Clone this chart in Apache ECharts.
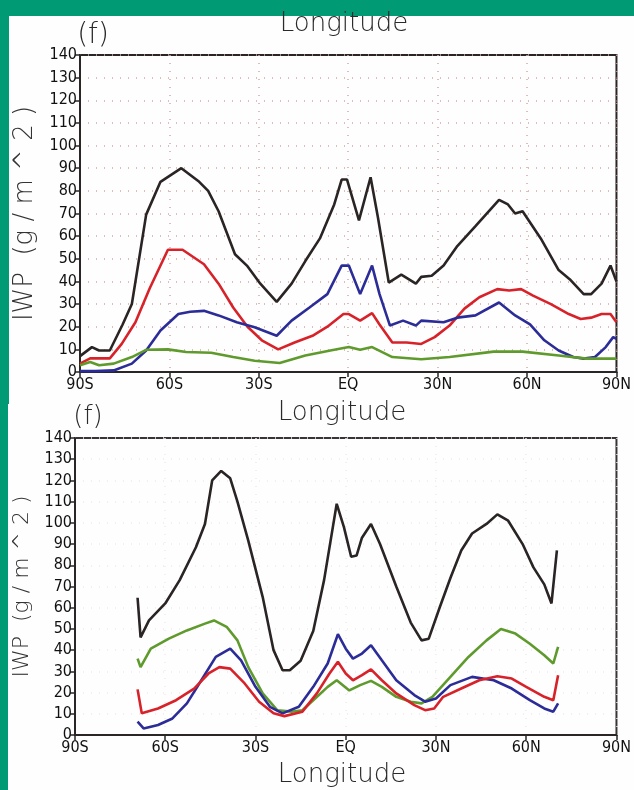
<!DOCTYPE html>
<html>
<head>
<meta charset="utf-8">
<script src="https://cdn.jsdelivr.net/npm/echarts@6/dist/echarts.min.js"></script>
<style>
	html, body { margin: 0; padding: 0; background: #009a74; }
	#chart { width: 634px; height: 790px; }
</style>
</head>
<body>
<div id="chart"></div>
<script>
	// tick labels
	var lonTicks = [-90, -60, -30, 0, 30, 60, 90];
	var lonNames = ['90S', '60S', '30S', 'EQ', '30N', '60N', '90N'];
	var iwpTicks = [0, 10, 20, 30, 40, 50, 60, 70, 80, 90, 100, 110, 120, 130, 140];

	// upper panel (f) : [lon, IWP]
	var topBlack = [[-90, 7], [-86, 11], [-83.6, 9.5], [-80, 9.5], [-75.7, 21], [-72.6, 30], [-67.8, 69.5], [-63, 84], [-56, 90], [-50, 84], [-47, 80], [-43.5, 71], [-38, 52], [-34, 47], [-29.5, 39], [-24, 31], [-19, 39], [-14.4, 49], [-9.5, 59], [-4.7, 74], [-2.2, 85], [-0.4, 85], [3.6, 67], [7.5, 86], [10, 68], [13.6, 39.5], [17.8, 43], [22.7, 39], [24.5, 42], [28, 42.5], [32, 47], [36.6, 55.6], [42.7, 64.4], [50.6, 76], [53.6, 74], [56, 70], [58.5, 71], [64.6, 59], [70.6, 45], [74.3, 41], [79, 34.4], [81.5, 34.4], [85, 39], [88, 47], [90, 40]];
	var topRed = [[-90, 3.7], [-86.6, 6], [-80, 6], [-76, 12.4], [-71.4, 22], [-66.6, 37], [-60.5, 54], [-55.6, 54], [-48.4, 47.6], [-43.5, 39], [-38.6, 28.5], [-33.8, 20], [-29, 14], [-23.5, 10], [-18, 13], [-12, 16], [-7, 20], [-1.6, 25.6], [0.2, 25.6], [4, 22.7], [8, 26], [10.5, 21], [14.8, 13], [19.6, 13], [24.5, 12.4], [29, 15.4], [34, 20.5], [39, 28], [44, 33], [50, 36.6], [54, 36], [58, 36.6], [62, 33.7], [68, 30], [74, 25.6], [78, 23.4], [81.5, 24], [85, 25.6], [88, 25.6], [90, 22]];
	var topBlue = [[-90, 0.4], [-84.8, 0.4], [-78.7, 0.7], [-72.6, 3.7], [-67.8, 9.5], [-63, 18.3], [-57, 25.6], [-53, 26.6], [-48.4, 27], [-43.5, 25], [-37.4, 22], [-31.4, 19.8], [-24, 16], [-19, 22.7], [-13, 28.5], [-7, 34.4], [-2.2, 47], [0.2, 47], [4, 34.4], [8, 47], [10.5, 34.4], [14, 20.5], [18.4, 22.7], [22.7, 20.5], [24.5, 22.7], [32, 22], [36.6, 24], [42.7, 25], [50.6, 30.7], [56, 25], [61, 21], [65.8, 14], [70.6, 9.5], [75.5, 6.6], [79, 5.9], [82.8, 6.6], [86.4, 11], [88.9, 15.4], [90, 14.6]];
	var topGreen = [[-90, 3], [-86.6, 4.4], [-83.6, 3], [-78.7, 3.7], [-72.6, 6.6], [-67.8, 9.8], [-60.5, 10], [-54.4, 8.8], [-46, 8.5], [-38.6, 6.6], [-31.4, 5], [-23, 4], [-14.4, 7.3], [-6, 9.5], [0.2, 11], [4, 9.8], [8, 11], [14.8, 6.6], [24.5, 5.6], [34, 6.6], [48.8, 9], [58.5, 9], [70.6, 7.3], [80, 5.9], [90, 5.9]];

	// lower panel (f) : [lon, IWP]
	var botBlack = [[-69.2, 64.7], [-68.2, 46], [-65.4, 54], [-60, 62], [-55.2, 73], [-49.8, 88.5], [-46.8, 99.5], [-44.4, 120], [-41.4, 124.5], [-38.4, 121], [-36, 110], [-32.4, 91.6], [-27.6, 65], [-24, 40], [-21, 30.5], [-18.6, 30.5], [-15, 35], [-10.8, 49], [-7.2, 73], [-3, 109], [-0.6, 98], [1.8, 84], [3.6, 84.6], [5.4, 93], [8.4, 99.5], [11.4, 90], [16.8, 70], [21.6, 53], [25.2, 44.6], [27.6, 45.4], [31.2, 60], [34.8, 74], [38.4, 87], [42, 95], [46.8, 99.5], [50.4, 104], [54, 101], [58.8, 90], [62.4, 79], [66, 71], [68.4, 62], [70.2, 87]];
	var botGreen = [[-69.2, 36], [-68.2, 32], [-64.8, 40.7], [-58.8, 45.4], [-52.8, 49.3], [-46.8, 52.5], [-43.8, 54], [-39.6, 51], [-36, 44.6], [-32.4, 32], [-27.6, 19.6], [-22.8, 11.7], [-18, 11], [-14.4, 11.7], [-10.8, 16.4], [-6, 22.7], [-3, 25.8], [1.2, 21], [4.8, 23.5], [8.4, 25.5], [12, 22.7], [16.8, 18], [21.6, 15.7], [25.2, 14.9], [28.8, 18], [34.8, 27.4], [40.8, 36.8], [46.8, 44.6], [51.6, 50], [56.4, 47.8], [61.2, 43], [66, 37.6], [69, 33.7], [70.6, 41.5]];
	var botBlue = [[-69.2, 6.3], [-67.2, 3.1], [-62.4, 4.7], [-57.6, 7.8], [-52.8, 14.9], [-48, 25.8], [-43.2, 36.8], [-38.4, 40.7], [-34.8, 35.2], [-30, 22.7], [-25.2, 13.3], [-21, 10.2], [-15.6, 13.3], [-10.8, 22.7], [-6, 33.7], [-2.6, 47.5], [0, 40.7], [2.4, 36], [5.4, 38.4], [8.4, 42.3], [12, 35.2], [16.8, 25.8], [22.8, 18.8], [26.4, 15.7], [30, 17.2], [34.8, 23.5], [42, 27.4], [49.2, 25.8], [55.2, 21.9], [61.2, 16.4], [66, 12.5], [69, 11], [70.6, 14.9]];
	var botRed = [[-69.2, 21.5], [-67.8, 10.2], [-62.4, 12.5], [-56.4, 16.4], [-50.4, 21.9], [-45.6, 29], [-42, 32], [-38.4, 31.3], [-33.6, 24.3], [-28.8, 15.7], [-24, 10.2], [-20.4, 8.9], [-14.4, 11], [-9.6, 19.6], [-5.4, 29], [-2.6, 34.5], [0, 29], [2.4, 25.8], [5.4, 28.2], [8.4, 30.9], [12, 25.8], [16.8, 19.6], [22.8, 14.1], [26.4, 11.7], [29.4, 12.5], [32.4, 18], [38.4, 21.9], [44.4, 25.8], [50.4, 27.7], [55.2, 26.6], [60, 22.7], [66, 18], [69, 16.4], [70.6, 28.2]];

	var lineColors = {black: '#2a2424', red: '#d8222a', blue: '#2b2c98', green: '#5f9a2c'};
	var tickFont = "'DejaVu Sans Condensed', 'Liberation Sans Narrow', sans-serif";
	var thinFont = "'DejaVu Sans', sans-serif";

	function lonLabel(v) {
		var i = lonTicks.indexOf(v);
		return i >= 0 ? lonNames[i] : '';
	}

	function xAxisOf(idx, gridColor) {
		return {
			type: 'value', gridIndex: idx, min: -90, max: 90, interval: 30,
			axisLine: {onZero: false, lineStyle: {color: '#2a2626', width: 2}},
			axisTick: {show: true, length: 5, lineStyle: {color: '#2a2626', width: 1.5}},
			axisLabel: {formatter: lonLabel, color: '#111', fontSize: 16, fontFamily: tickFont, margin: 5},
			splitLine: {show: true, lineStyle: {color: gridColor, type: [1, 7], width: 1.5}}
		};
	}

	function yAxisOf(idx, gridColor, nameSize, gap) {
		return {
			type: 'value', gridIndex: idx, min: 0, max: 140, interval: 10,
			name: 'IWP  (g / m ^ 2 )', nameLocation: 'middle', nameGap: gap,
			nameTextStyle: {fontSize: nameSize, color: '#333', fontFamily: thinFont, fontWeight: 300},
			axisLine: {onZero: false, lineStyle: {color: '#2a2626', width: 2}},
			axisTick: {show: true, length: 5, lineStyle: {color: '#2a2626', width: 1.5}},
			axisLabel: {color: '#111', fontSize: 16, fontFamily: tickFont, margin: 3},
			splitLine: {show: true, lineStyle: {color: gridColor, type: [1, 7], width: 1.5}}
		};
	}

	function line(name, data, color, idx) {
		return {
			name: name, type: 'line', xAxisIndex: idx, yAxisIndex: idx,
			data: data, showSymbol: false, smooth: false,
			lineStyle: {color: color, width: 2.6}
		};
	}

	function label(text, x, y, size) {
		return {
			type: 'text', x: x, y: y, z: 5,
			style: {text: text, fill: '#2a2a2a', font: '300 ' + size + 'px ' + thinFont, align: 'center', verticalAlign: 'middle'}
		};
	}

	var chart = echarts.init(document.getElementById('chart'), null, {renderer: 'canvas'});
	chart.setOption({
		backgroundColor: '#009a74',
		animation: false,
		graphic: [
			{type: 'rect', z: -10, shape: {x: 9, y: 16, width: 625, height: 388}, style: {fill: '#fefefe'}},
			{type: 'rect', z: -10, shape: {x: 8, y: 404, width: 626, height: 386}, style: {fill: '#fefefe'}},
			label('Longitude', 344, 24, 26),
			label('(f)', 93, 36, 28),
			label('Longitude', 342, 413, 26),
			label('(f)', 88, 417, 26),
			label('Longitude', 342, 775, 26)
		],
		grid: [
			{left: 80, right: 13, top: 55, height: 317, show: true, borderColor: '#2a2626', borderWidth: 2, backgroundColor: 'transparent'},
			{left: 75, right: 14, top: 438, height: 297, show: true, borderColor: '#3a3434', borderWidth: 2, backgroundColor: 'transparent'}
		],
		xAxis: [xAxisOf(0, '#d4a8a8'), xAxisOf(1, '#ececec')],
		yAxis: [yAxisOf(0, '#d4a8a8', 26, 28), yAxisOf(1, '#ececec', 22, 30)],
		series: [
			line('black', topBlack, lineColors.black, 0),
			line('red', topRed, lineColors.red, 0),
			line('blue', topBlue, lineColors.blue, 0),
			line('green', topGreen, lineColors.green, 0),
			line('black', botBlack, lineColors.black, 1),
			line('green', botGreen, lineColors.green, 1),
			line('blue', botBlue, lineColors.blue, 1),
			line('red', botRed, lineColors.red, 1)
		]
	});
</script>
</body>
</html>
